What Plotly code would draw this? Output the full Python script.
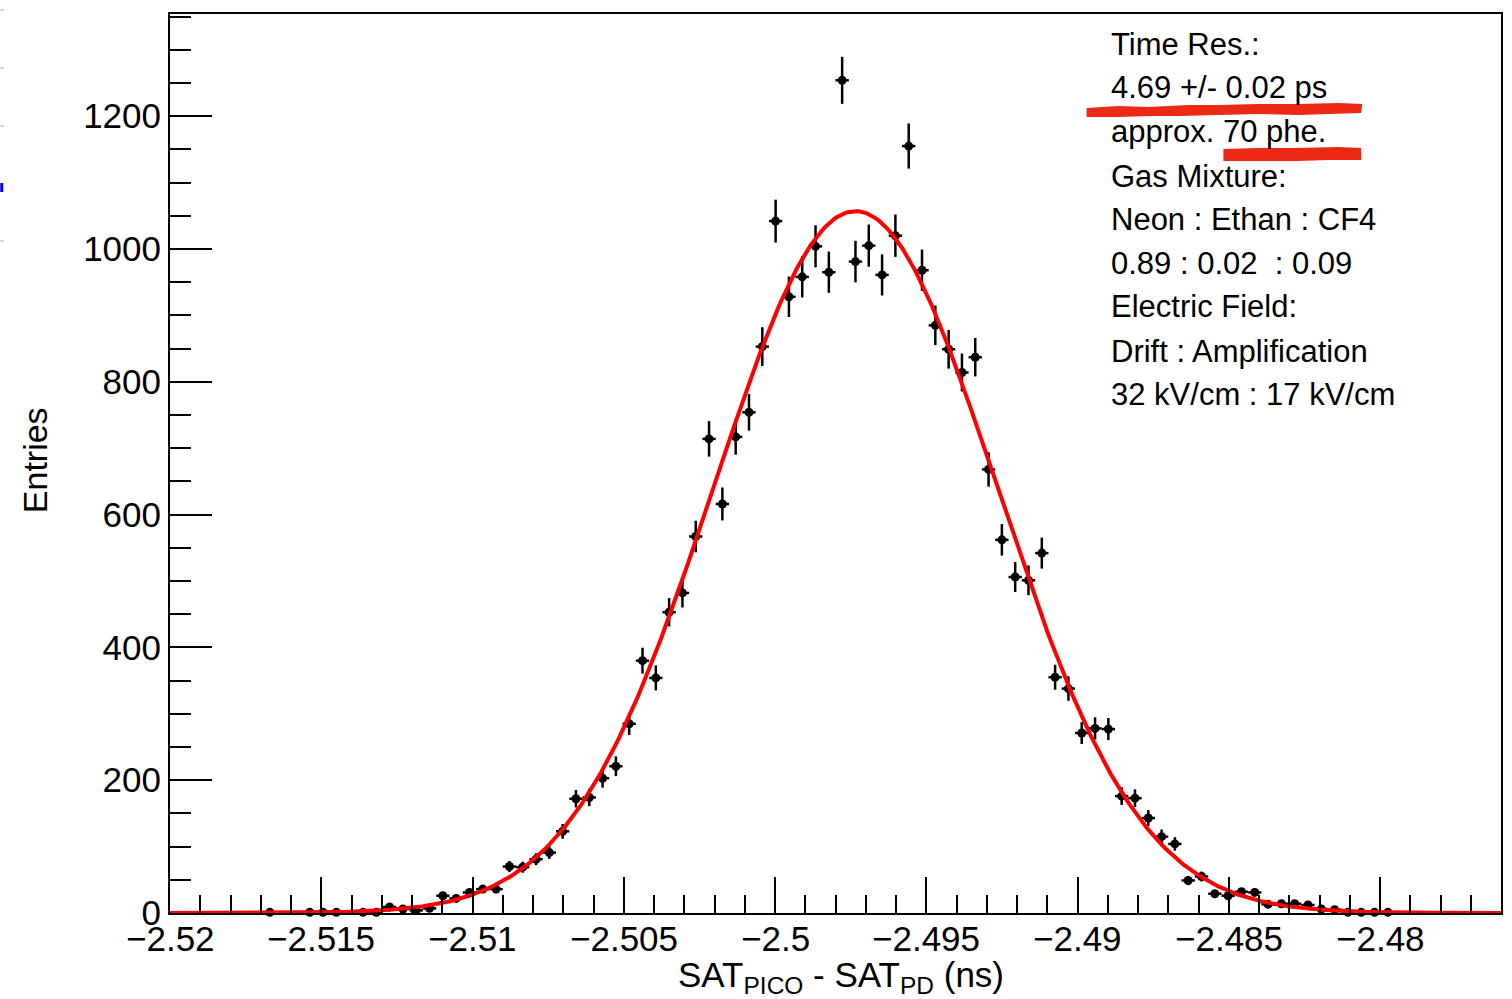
import numpy as np
import plotly.graph_objects as go

# ---------------- data ----------------
hist_lo, hist_hi, n_bins = -2.52, -2.476, 100
# counts per bin (None = empty bin, not drawn)
bin_counts = (
    [None] * 7 + [1, None, None, 1, 1, 1, None, 1, 1, 9, 6, 4, 7,
                  26, 22, 31, 36, 36, 70, 69, 81, 91, 123,
                  172, 174, 203, 221, 285, 380, 354, 453, 482, 567,
                  714, 616, 717, 754, 853, 1042, 928, 958, 1004, 965,
                  1254, 981, 1005, 961, 1020, 1155, 968, 885, 849, 814,
                  837, 668, 562, 506, 501, 542, 355, 338, 271, 278,
                  277, 176, 173, 143, 115, 104, 49, 55, 29, 26,
                  32, 31, 13, 14, 14, 12, 6, 5, 1, 1,
                  1, 1] + [None] * 8
)
# gaussian fit parameters (amplitude, mean [ns], sigma [ns])
fit_amp, fit_mean, fit_sigma = 1057.0, -2.49734, 0.00469

x_tickvals = [-2.52, -2.515, -2.51, -2.505, -2.5, -2.495, -2.49, -2.485, -2.48]
x_ticktext = ["\u22122.52", "\u22122.515", "\u22122.51", "\u22122.505", "\u22122.5",
              "\u22122.495", "\u22122.49", "\u22122.485", "\u22122.48"]
y_tickvals = [0, 200, 400, 600, 800, 1000, 1200]
y_ticktext = ["0", "200", "400", "600", "800", "1000", "1200"]

info_lines = ["Time Res.:", "4.69 +/- 0.02 ps", "approx. 70 phe.", "Gas Mixture:",
              "Neon : Ethan : CF4", "0.89 : 0.02\u00a0 : 0.09", "Electric Field:",
              "Drift : Amplification", "32 kV/cm : 17 kV/cm"]

# ---------------- derived ----------------
edges = np.linspace(hist_lo, hist_hi, n_bins + 1)
centers = 0.5 * (edges[:-1] + edges[1:])
bw = edges[1] - edges[0]
xs = [c for c, v in zip(centers, bin_counts) if v is not None]
ys = [v for v in bin_counts if v is not None]
errs = [np.sqrt(v) for v in ys]
ymax = 1.05 * (max(ys) + np.sqrt(max(ys)))

xf = np.linspace(hist_lo, hist_hi, 600)
yf = fit_amp * np.exp(-0.5 * ((xf - fit_mean) / fit_sigma) ** 2)

FONT = "Liberation Sans, Arial, Helvetica, sans-serif"

# geometry of plot area in pixels (for paper-coord decorations)
W, H = 1512, 999
ML, MR, MT, MB = 170, 9, 14, 86
PW, PH = W - ML - MR, H - MT - MB


def px(xp):
    return (xp - ML) / PW


def py(yp):
    return (H - MB - yp) / PH


fig = go.Figure()
fig.add_trace(go.Scatter(
    x=xs, y=ys, mode="markers",
    marker=dict(symbol="circle", size=9, color="black"),
    error_y=dict(type="data", array=errs, visible=True, color="black", thickness=2.5, width=0),
    error_x=dict(type="constant", value=bw / 2, visible=True, color="black", thickness=2.5, width=0),
    showlegend=False, cliponaxis=False,
))
fig.add_trace(go.Scatter(
    x=xf, y=yf, mode="lines", line=dict(color="rgb(255,0,0)", width=4),
    showlegend=False,
))

axis_common = dict(
    showline=True, linecolor="black", linewidth=2, mirror=True,
    showgrid=False, zeroline=False, ticks="inside", tickcolor="black", tickwidth=2,
    tickfont=dict(family=FONT, size=35, color="black"),
)
fig.update_xaxes(
    range=[hist_lo, hist_hi], tickmode="array", tickvals=x_tickvals, ticktext=x_ticktext,
    ticklen=36, showticklabels=False,
    minor=dict(ticks="inside", ticklen=18, tickmode="linear", tick0=-2.52, dtick=0.001,
               tickcolor="black", tickwidth=2, showgrid=False),
    **axis_common,
)
fig.update_yaxes(
    range=[0, ymax], tickmode="array", tickvals=y_tickvals, ticktext=y_ticktext,
    ticklen=42, ticklabelstandoff=0,
    minor=dict(ticks="inside", ticklen=21, tickmode="linear", tick0=0, dtick=50,
               tickcolor="black", tickwidth=2, showgrid=False),
    **axis_common,
)

annotations = []
# x tick labels (placed a bit closer to the axis than plotly's default)
for tv, tt in zip(x_tickvals, x_ticktext):
    annotations.append(dict(
        text=tt, xref="x", yref="paper", x=tv, y=py(938),
        xanchor="center", yanchor="middle", showarrow=False,
        font=dict(family=FONT, size=35, color="black"),
    ))
line_y = [45, 88, 131, 177, 220, 263, 306, 351, 394]
for txt, yy in zip(info_lines, line_y):
    annotations.append(dict(
        text=txt, xref="paper", yref="paper", x=px(1110), y=py(yy),
        xanchor="left", yanchor="middle", showarrow=False,
        font=dict(family=FONT, size=31, color="black"),
    ))
annotations.append(dict(
    text="Entries", xref="paper", yref="paper", x=px(35), y=py(460), textangle=-90,
    xanchor="center", yanchor="middle", showarrow=False,
    font=dict(family=FONT, size=34, color="black"),
))
annotations.append(dict(
    text="SAT<sub>PICO</sub> - SAT<sub>PD</sub> (ns)", xref="paper", yref="paper",
    x=px(1007), y=py(977), xanchor="right", yanchor="middle", showarrow=False,
    font=dict(family=FONT, size=35, color="black"),
))


def poly_path(pts):
    s = "M " + " L ".join(f"{px(a):.5f},{py(b):.5f}" for a, b in pts) + " Z"
    return s


red_marks = [
    [(1088, 108), (1120, 106), (1150, 107), (1190, 105), (1220, 105), (1260, 104), (1300, 104),
     (1340, 103), (1364, 104), (1363, 113), (1330, 114), (1300, 115), (1260, 114), (1220, 115),
     (1180, 116), (1150, 116), (1120, 117), (1088, 117)],
    [(1225, 149), (1260, 148), (1300, 148), (1340, 147), (1363, 148), (1363, 160), (1330, 160),
     (1300, 161), (1260, 161), (1225, 161)],
]
shapes = []
for pts in red_marks:
    shapes.append(dict(type="path", path=poly_path(pts), xref="paper", yref="paper",
                       fillcolor="rgb(236,40,22)", line=dict(width=0), layer="above"))
# cropped-screenshot remnants at the very left edge
for yy in [10, 68, 126, 241]:
    shapes.append(dict(type="line", xref="paper", yref="paper", x0=px(0), x1=px(4),
                       y0=py(yy), y1=py(yy), line=dict(color="rgb(170,170,170)", width=1)))
shapes.append(dict(type="rect", xref="paper", yref="paper", x0=px(0), x1=px(3),
                   y0=py(192), y1=py(183), fillcolor="blue", line=dict(width=0)))

fig.update_layout(
    width=W, height=H, autosize=False,
    margin=dict(l=ML, r=MR, t=MT, b=MB, pad=0),
    paper_bgcolor="white", plot_bgcolor="white",
    font=dict(family=FONT, color="black"),
    annotations=annotations, shapes=shapes,
)
fig.write_html("out.html", include_plotlyjs=True, full_html=True,
               config={"displayModeBar": False})
